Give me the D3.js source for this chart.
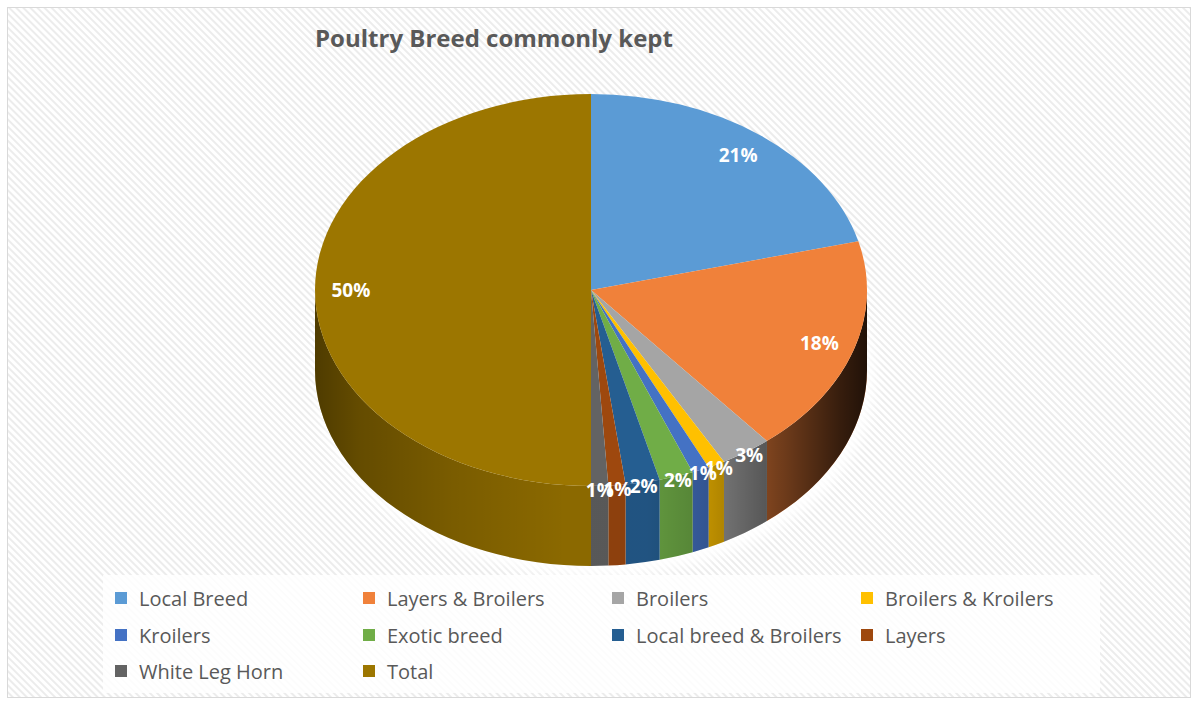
<!DOCTYPE html>
<html>
<head>
<meta charset="utf-8">
<script src="https://cdn.jsdelivr.net/npm/d3@7"></script>
<style>
  html, body { margin: 0; padding: 0; background: #ffffff; }
  svg { display: block; }
</style>
</head>
<body>
<svg id="chart" width="1197" height="705"></svg>
<script>
// ---- data ----
const title = "Poultry Breed commonly kept";
const categories = ["Local Breed", "Layers & Broilers", "Broilers", "Broilers & Kroilers",
  "Kroilers", "Exotic breed", "Local breed & Broilers", "Layers", "White Leg Horn", "Total"];
const values = [21, 18, 3, 1, 1, 2, 2, 1, 1, 50];
const valueLabels = ["21%", "18%", "3%", "1%", "1%", "2%", "2%", "1%", "1%", "50%"];
const colors = ["#5B9BD5", "#F0813A", "#A5A5A5", "#FFC000", "#4472C4", "#70AD47",
  "#255E91", "#9E480E", "#636363", "#9C7600"];

// ---- layout ----
const W = 1197, H = 705;
const cx = 591, cy = 290, rx = 276, ry = 196, depth = 80;
const k = ry / rx;

const svg = d3.select("#chart");
const defs = svg.append("defs");

// hatch background
const pat = defs.append("pattern").attr("id", "hatch")
  .attr("patternUnits", "userSpaceOnUse").attr("width", 5).attr("height", 5)
  .attr("patternTransform", "rotate(-45)");
pat.append("rect").attr("width", 5).attr("height", 5).attr("fill", "#ffffff");
pat.append("rect").attr("width", 2).attr("height", 5).attr("fill", "#ececec");

svg.append("rect").attr("x", 0).attr("y", 0).attr("width", W).attr("height", H).attr("fill", "#fff");
svg.append("rect").attr("x", 7.5).attr("y", 7.5).attr("width", 1183).attr("height", 690)
  .attr("fill", "url(#hatch)").attr("stroke", "#d9d9d9").attr("stroke-width", 1);

// side shading gradient
const grad = defs.append("linearGradient").attr("id", "sideShade")
  .attr("gradientUnits", "userSpaceOnUse").attr("x1", -rx).attr("x2", rx).attr("y1", 0).attr("y2", 0);
[[0, 0.45], [0.08, 0.3], [0.25, 0.15], [0.45, 0.03], [0.6, 0.03], [0.72, 0.2], [0.85, 0.5], [0.95, 0.75], [1, 0.85]]
  .forEach(([o, a]) => grad.append("stop").attr("offset", o).attr("stop-color", "#000").attr("stop-opacity", a));

// soft white glow under pie
const blur = defs.append("filter").attr("id", "glow").attr("x", "-20%").attr("y", "-20%").attr("width", "140%").attr("height", "140%");
blur.append("feGaussianBlur").attr("stdDeviation", 6);
svg.append("ellipse").attr("cx", cx + 4).attr("cy", cy + depth + 6).attr("rx", rx + 4).attr("ry", ry + 4)
  .attr("fill", "#ffffff").attr("opacity", 0.9).attr("filter", "url(#glow)");

// title
svg.append("text").attr("x", 494).attr("y", 47).attr("text-anchor", "middle")
  .attr("font-family", "'Open Sans', sans-serif").attr("font-weight", "bold").attr("font-size", 24)
  .attr("fill", "#595959").text(title);

// pie layout
const pie = d3.pie().sort(null).value(d => d.value);
const data = categories.map((c, i) => ({ name: c, value: values[i], label: valueLabels[i], color: colors[i] }));
const arcs = pie(data);

const g = svg.append("g").attr("transform", `translate(${cx},${cy}) scale(1,${k})`);
const dz = depth / k;
const HALF = Math.PI / 2;

function sidePath(s, e) {
  const p = d3.path();
  p.moveTo(rx * Math.sin(s), -rx * Math.cos(s));
  p.arc(0, 0, rx, s - HALF, e - HALF, false);
  p.lineTo(rx * Math.sin(e), -rx * Math.cos(e) + dz);
  p.arc(0, dz, rx, e - HALF, s - HALF, true);
  p.closePath();
  return p.toString();
}

// sides (only front half visible: angles between PI/2 and 3PI/2)
arcs.forEach(a => {
  const s = Math.max(a.startAngle, HALF), e = Math.min(a.endAngle, 3 * HALF);
  if (e <= s) return;
  g.append("path").attr("d", sidePath(s, e))
    .attr("fill", d3.color(a.data.color).darker(0.25));
});
g.append("path").attr("d", sidePath(HALF, 3 * HALF)).attr("fill", "url(#sideShade)");

// top faces
const arcGen = d3.arc().innerRadius(0).outerRadius(rx);
g.selectAll("path.top").data(arcs).enter().append("path").attr("class", "top")
  .attr("d", arcGen).attr("fill", d => d.data.color);

// value labels
function labelPos(d) {
  const m = (d.startAngle + d.endAngle) / 2;
  const f = d.data.value >= 10 ? 0.87 : 1.02;
  return [cx + rx * f * Math.sin(m), cy - ry * f * Math.cos(m)];
}
svg.selectAll("text.val").data(arcs).enter().append("text").attr("class", "val")
  .attr("x", d => labelPos(d)[0])
  .attr("y", d => labelPos(d)[1])
  .attr("text-anchor", "middle").attr("dominant-baseline", "central")
  .attr("font-family", "'Open Sans', sans-serif").attr("font-weight", "bold").attr("font-size", 19)
  .attr("fill", "#ffffff").text(d => d.data.label);

// legend
svg.append("rect").attr("x", 103).attr("y", 575).attr("width", 997).attr("height", 118)
  .attr("fill", "#ffffff").attr("opacity", 0.85);
const colX = [115, 363, 612, 861];
const rowY = [598, 635, 671];
const leg = svg.selectAll("g.leg").data(data).enter().append("g").attr("class", "leg")
  .attr("transform", (d, i) => `translate(${colX[i % 4]},${rowY[Math.floor(i / 4)]})`);
leg.append("rect").attr("x", 0).attr("y", -6).attr("width", 12).attr("height", 12).attr("fill", d => d.color);
leg.append("text").attr("x", 24).attr("y", 0).attr("dominant-baseline", "central")
  .attr("font-family", "'Open Sans', sans-serif").attr("font-size", 20).attr("fill", "#595959")
  .text(d => d.name);
</script>
</body>
</html>
